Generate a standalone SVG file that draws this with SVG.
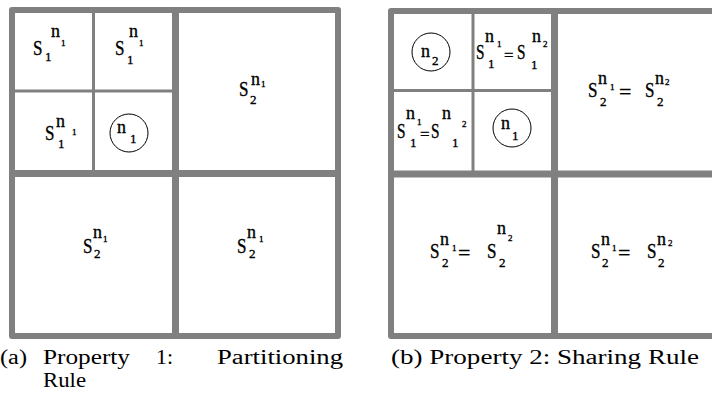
<svg xmlns="http://www.w3.org/2000/svg" width="712" height="410" viewBox="0 0 712 410">
<style>
text{font-family:"Liberation Serif","Times New Roman",serif;fill:#000}
.S,.n,.d,.s,.eq,.eqL{stroke:#000;stroke-width:0.35}
.S{font-size:21px}
.n{font-size:18px}
.d{font-size:13px}
.s{font-size:9px}
.eq{font-size:17px}
.eqL{font-size:22px}
.cap{font-size:20px}
.thick{stroke:#808080;stroke-width:7;fill:none}
.frame{stroke:#808080;stroke-width:6;fill:none;stroke-linejoin:round}
.thin{stroke:#808080;stroke-width:3;fill:none}
.node{fill:none;stroke:#000;stroke-width:1}
</style>
<rect width="712" height="410" fill="#fff"/>

<g id="panel-a-grid">
<rect class="frame" x="12" y="10" width="326" height="326"/>
<line class="thick" x1="175.5" y1="10" x2="175.5" y2="336"/>
<line class="thick" x1="12" y1="173.5" x2="338" y2="173.5"/>
<line class="thin" x1="93.5" y1="13" x2="93.5" y2="172"/>
<line class="thin" x1="15" y1="91" x2="174" y2="91"/>
</g>

<g id="panel-b-grid">
<rect class="frame" x="391" y="11" width="340" height="325"/>
<line class="thick" x1="554.5" y1="11" x2="554.5" y2="336"/>
<line class="thick" x1="391" y1="174" x2="720" y2="174"/>
<line class="thin" x1="473" y1="14" x2="473" y2="173"/>
<line class="thin" x1="394" y1="90.5" x2="553" y2="90.5"/>
</g>

<g id="a1">
<text class="S" x="33" y="55" textLength="9.5" lengthAdjust="spacingAndGlyphs">S</text><text class="d" x="45" y="61">1</text>
<text class="n" x="51" y="37">n</text><text class="s" x="61" y="46">1</text>
</g>
<g id="a2">
<text class="S" x="115" y="55" textLength="9.5" lengthAdjust="spacingAndGlyphs">S</text><text class="d" x="127" y="64">1</text>
<text class="n" x="129" y="37">n</text><text class="s" x="139" y="46">1</text>
</g>
<g id="a3">
<text class="S" x="45" y="140" textLength="9.5" lengthAdjust="spacingAndGlyphs">S</text><text class="d" x="58" y="148">1</text>
<text class="n" x="56" y="127">n</text><text class="s" x="72" y="135">1</text>
</g>
<g id="a-n1">
<circle class="node" cx="129" cy="133" r="19"/>
<text class="n" x="117" y="133">n</text><text class="d" x="130" y="143">1</text>
</g>
<g id="a4">
<text class="S" x="239" y="96" textLength="9.5" lengthAdjust="spacingAndGlyphs">S</text><text class="d" x="250" y="104">2</text>
<text class="n" x="251" y="85">n</text><text class="s" x="261" y="87">1</text>
</g>
<g id="a5">
<text class="S" x="83" y="253" textLength="9.5" lengthAdjust="spacingAndGlyphs">S</text><text class="d" x="94" y="258">2</text>
<text class="n" x="93" y="238">n</text><text class="s" x="103" y="242">1</text>
</g>
<g id="a6">
<text class="S" x="237" y="253" textLength="9.5" lengthAdjust="spacingAndGlyphs">S</text><text class="d" x="249" y="258">2</text>
<text class="n" x="247" y="238">n</text><text class="s" x="259" y="242">1</text>
</g>

<g id="b-n2">
<circle class="node" cx="431" cy="52" r="19"/>
<text class="n" x="421" y="57">n</text><text class="d" x="432" y="65">2</text>
</g>
<g id="b2">
<text class="S" x="476" y="59" textLength="8.5" lengthAdjust="spacingAndGlyphs">S</text><text class="d" x="488" y="68">1</text>
<text class="n" x="485" y="42">n</text><text class="s" x="497" y="47">1</text>
<text class="eq" x="504" y="61">=</text>
<text class="S" x="517" y="59" textLength="8.5" lengthAdjust="spacingAndGlyphs">S</text><text class="d" x="531" y="69">1</text>
<text class="n" x="532" y="42">n</text><text class="s" x="543" y="47">2</text>
</g>
<g id="b3">
<text class="S" x="397" y="138" textLength="8.5" lengthAdjust="spacingAndGlyphs">S</text><text class="d" x="410" y="147">1</text>
<text class="n" x="406" y="119">n</text><text class="s" x="417" y="125">1</text>
<text class="eq" x="420" y="140">=</text>
<text class="S" x="431" y="138" textLength="8.5" lengthAdjust="spacingAndGlyphs">S</text><text class="d" x="452" y="147">1</text>
<text class="n" x="442" y="119">n</text><text class="s" x="462" y="127">2</text>
</g>
<g id="b-n1">
<circle class="node" cx="512" cy="128" r="19"/>
<text class="n" x="501" y="129">n</text><text class="d" x="512" y="140">1</text>
</g>
<g id="b5">
<text class="S" x="588" y="97" textLength="9.5" lengthAdjust="spacingAndGlyphs">S</text><text class="d" x="600" y="106">2</text>
<text class="n" x="598" y="84">n</text><text class="s" x="610" y="90">1</text>
<text class="eqL" x="619" y="99">=</text>
<text class="S" x="645" y="97" textLength="9.5" lengthAdjust="spacingAndGlyphs">S</text><text class="d" x="657" y="106">2</text>
<text class="n" x="655" y="84">n</text><text class="s" x="665" y="85">2</text>
</g>
<g id="b6">
<text class="S" x="430" y="258" textLength="9.5" lengthAdjust="spacingAndGlyphs">S</text><text class="d" x="442" y="267">2</text>
<text class="n" x="440" y="245">n</text><text class="s" x="452" y="251">1</text>
<text class="eqL" x="458" y="260">=</text>
<text class="S" x="487" y="258" textLength="9.5" lengthAdjust="spacingAndGlyphs">S</text><text class="d" x="499" y="267">2</text>
<text class="n" x="497" y="234">n</text><text class="s" x="508" y="241">2</text>
</g>
<g id="b7">
<text class="S" x="591" y="258" textLength="9.5" lengthAdjust="spacingAndGlyphs">S</text><text class="d" x="602" y="267">2</text>
<text class="n" x="601" y="245">n</text><text class="s" x="612" y="251">1</text>
<text class="eqL" x="618" y="260">=</text>
<text class="S" x="647" y="258" textLength="9.5" lengthAdjust="spacingAndGlyphs">S</text><text class="d" x="658" y="267">2</text>
<text class="n" x="657" y="245">n</text><text class="s" x="668" y="246">2</text>
</g>

<g id="caption-a">
<text class="cap" x="0" y="364" textLength="27" lengthAdjust="spacingAndGlyphs">(a)</text>
<text class="cap" x="43" y="364" textLength="87" lengthAdjust="spacingAndGlyphs">Property</text>
<text class="cap" x="156" y="364" textLength="17" lengthAdjust="spacingAndGlyphs">1:</text>
<text class="cap" x="217" y="364" textLength="126" lengthAdjust="spacingAndGlyphs">Partitioning</text>
<text class="cap" x="43" y="387" textLength="43" lengthAdjust="spacingAndGlyphs">Rule</text>
</g>
<g id="caption-b">
<text class="cap" x="391" y="364" textLength="308" lengthAdjust="spacingAndGlyphs">(b) Property 2: Sharing Rule</text>
</g>
</svg>
